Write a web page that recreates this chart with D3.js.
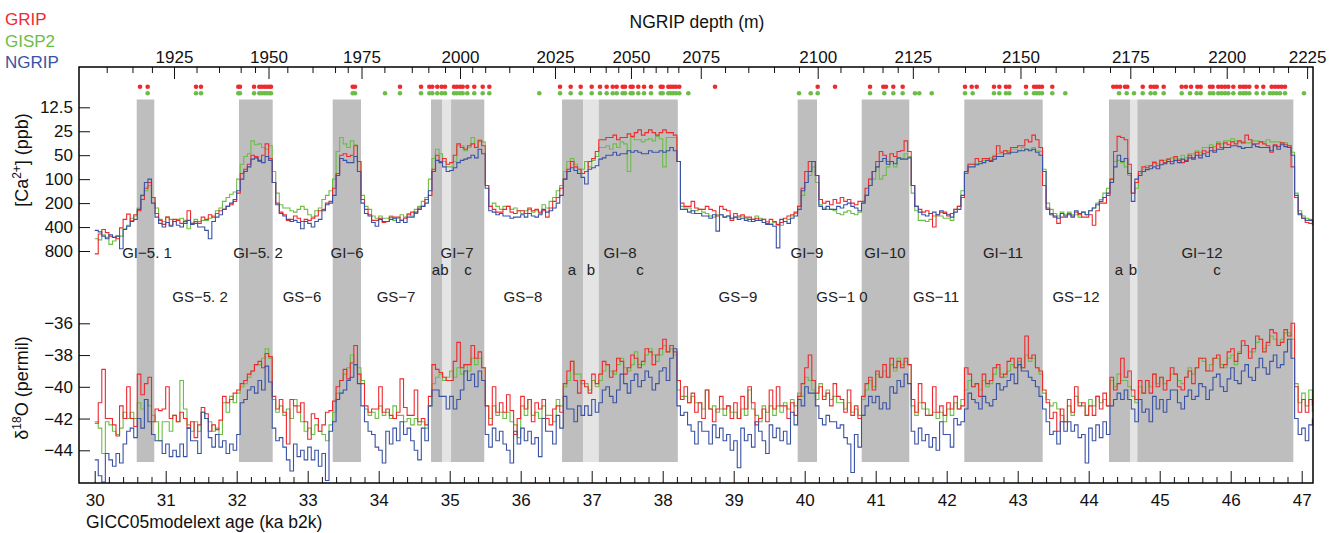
<!DOCTYPE html>
<html>
<head>
<meta charset="utf-8">
<script src="https://cdn.jsdelivr.net/npm/d3@7"></script>
<style>
  body { margin: 0; background: #fff; }
  svg { display: block; font-family: "Liberation Sans", Arial, sans-serif; }
</style>
</head>
<body>
<svg id="chart" width="1340" height="533"></svg>
<script>
// one value per 0.05 ka, first step starts at 30.00 ka b2k (20 values per row = 1 ka)
const startAge = 30.0, stepAge = 0.05;

// [Ca2+] in ppb
const caGRIP = [
  870,490,430,470,520,540,560,410,320,275,335,280,250,180,130,110,170,270,330,370,
  300,380,320,330,360,340,250,360,340,360,300,320,280,300,270,250,240,220,210,190,
  150,85,75,65,50,52,60,50,36,55,110,200,260,280,330,320,290,310,340,320,
  330,310,290,250,240,200,190,130,85,50,48,52,50,38,60,180,240,280,330,330,
  310,350,340,300,300,300,330,310,280,260,270,230,220,180,160,75,50,60,55,65,
  62,50,36,40,42,38,36,40,33,38,120,220,240,260,260,240,220,260,270,250,
  250,270,230,250,240,260,250,300,230,190,170,130,100,75,60,70,75,85,80,60,
  55,45,32,32,30,30,28,32,30,30,27,29,26,24,28,26,24,26,28,26,
  24,26,26,28,60,200,220,220,190,230,240,240,220,240,250,290,220,240,250,330,
  270,290,280,300,300,320,310,330,320,360,320,340,370,350,310,290,280,260,220,130,
  80,60,60,90,180,200,190,210,180,200,170,190,180,200,210,190,190,130,100,80,
  60,45,50,60,48,52,45,44,33,45,120,220,240,260,250,270,400,280,260,260,
  290,270,240,220,170,85,65,65,55,60,55,55,58,52,38,46,44,46,40,40,
  38,38,32,34,28,32,40,120,230,270,300,360,300,300,270,290,260,280,300,300,
  280,380,250,200,200,160,100,45,29,30,32,65,150,110,80,70,72,68,62,68,
  58,62,56,60,52,58,62,58,50,54,46,50,44,46,40,44,36,40,35,37,
  34,36,33,35,28,32,36,36,34,36,38,46,37,39,35,37,38,70,170,270,
  310,350,360,380
];
const caGISP2 = [
  560,580,500,540,660,600,520,520,420,380,310,290,230,160,140,120,170,230,320,340,
  300,320,340,320,310,330,420,360,320,340,330,330,310,290,250,230,190,170,155,145,
  100,65,52,48,33,37,36,40,42,38,80,150,210,230,230,250,260,240,220,240,
  280,300,250,230,180,160,140,100,45,30,36,40,33,37,60,160,220,240,290,310,
  290,310,310,290,330,310,280,300,270,290,240,220,190,170,100,55,42,48,60,70,
  70,60,38,38,44,40,30,40,32,34,120,220,200,220,240,220,220,240,230,250,
  270,250,240,260,250,270,210,230,190,170,140,120,80,60,55,65,85,75,60,70,
  58,52,40,40,38,42,36,40,34,36,80,30,32,32,34,32,31,33,29,31,
  70,30,30,30,60,220,230,230,270,250,240,260,270,290,300,280,280,300,290,310,
  300,300,290,310,340,320,290,310,320,340,370,350,380,380,340,320,290,270,220,160,
  110,90,70,110,210,230,240,240,250,270,280,260,250,270,280,260,200,160,120,100,
  70,100,90,70,60,70,55,55,48,52,150,250,330,330,340,320,290,290,290,310,
  310,330,240,220,140,80,65,65,64,60,58,58,54,50,48,48,44,44,42,42,
  44,40,42,42,40,44,45,75,200,240,270,290,260,280,260,280,280,300,260,280,
  250,230,200,180,150,130,100,60,58,62,70,90,150,130,85,75,68,68,60,64,
  58,58,56,54,54,56,50,54,48,48,44,46,40,40,37,39,34,36,33,33,
  31,33,34,34,35,35,33,33,34,34,32,34,34,34,35,35,38,46,150,250,
  290,310,320,320
];
const caNGRIP = [
  440,460,520,560,500,540,520,750,430,390,340,320,240,160,110,100,200,300,360,400,
  350,390,340,380,400,360,330,370,360,400,400,440,560,340,300,280,240,220,200,180,
  140,100,80,70,56,54,58,62,52,58,110,210,270,290,320,340,330,350,420,340,
  360,400,340,320,250,210,200,160,90,55,58,62,62,52,80,200,270,290,350,390,
  320,340,340,320,310,350,330,350,300,300,260,240,220,200,140,80,58,62,70,80,
  78,72,62,58,56,54,50,54,42,48,130,250,260,280,270,290,290,310,300,300,
  280,300,270,290,300,280,240,260,250,230,200,160,100,80,72,78,85,95,115,75,
  72,68,56,54,50,50,46,50,48,48,44,46,44,46,48,48,44,46,46,44,
  46,44,40,44,60,240,240,260,250,270,270,290,290,310,280,450,280,300,290,310,
  300,320,310,330,320,340,330,330,350,370,370,390,730,320,340,360,310,290,240,140,
  110,80,60,90,220,240,220,240,240,220,230,210,200,220,230,250,200,160,120,80,
  70,60,55,65,60,64,54,56,56,54,120,220,260,280,290,270,260,280,250,270,
  280,300,260,240,160,80,70,70,66,64,62,58,60,56,52,52,48,48,46,46,
  44,44,42,44,42,46,50,80,240,280,290,310,270,290,280,300,250,270,260,280,
  250,230,210,190,170,150,110,70,50,60,55,85,190,100,90,80,76,74,70,74,
  66,64,60,64,58,62,56,60,54,56,50,54,48,52,44,46,42,42,40,40,
  38,38,39,41,40,40,37,39,40,40,40,44,38,42,37,39,40,50,160,280,
  310,330,330,350
];

// d18O in permil
const d18oGRIP = [
  -42.3,-41.0,-38.9,-42.0,-42.0,-42.4,-43.1,-41.2,-42.0,-40.0,-42.0,-42.5,-39.2,-40.5,-39.8,-39.4,-42.2,-41.4,-41.5,-41.4,
  -40.0,-42.0,-41.8,-42.2,-41.6,-42.0,-42.6,-42.2,-43.2,-42.4,-41.3,-41.7,-42.8,-42.4,-42.7,-42.1,-40.6,-41.0,-40.8,-40.4,
  -40.2,-39.8,-39.6,-39.2,-39.0,-38.6,-38.4,-38.8,-37.9,-38.1,-40.6,-41.4,-40.8,-41.6,-43.6,-40.8,-41.2,-41.6,-41.0,-42.2,
  -43.3,-41.7,-42.0,-42.8,-42.4,-41.6,-41.5,-40.9,-40.0,-39.6,-38.9,-39.5,-38.5,-37.4,-39.2,-39.8,-41.2,-41.6,-41.4,-41.4,
  -40.0,-41.6,-41.4,-41.8,-42.0,-41.6,-39.5,-41.3,-41.8,-41.8,-40.2,-42.2,-42.0,-42.4,-40.6,-38.6,-38.9,-39.1,-39.4,-39.6,
  -39.6,-38.4,-37.2,-38.8,-38.6,-38.6,-37.4,-38.2,-37.8,-38.8,-41.2,-42.4,-40.0,-41.6,-41.0,-41.6,-40.5,-41.5,-43.0,-42.0,
  -40.6,-41.4,-40.8,-42.2,-41.0,-41.4,-40.8,-42.0,-42.4,-41.4,-41.2,-41.6,-39.8,-39.0,-38.4,-39.6,-40.4,-39.6,-40.0,-40.4,
  -39.2,-39.8,-39.2,-38.4,-38.6,-39.4,-39.0,-38.2,-38.4,-39.2,-38.8,-38.0,-38.2,-38.8,-38.4,-37.6,-37.8,-38.6,-38.0,-37.6,
  -37.0,-37.8,-37.4,-37.8,-39.6,-40.8,-40.0,-41.0,-40.4,-41.6,-41.0,-42.0,-40.2,-41.4,-42.2,-41.4,-40.6,-41.4,-41.2,-42.0,
  -41.0,-42.0,-40.6,-41.4,-40.0,-41.0,-42.4,-42.0,-41.4,-42.2,-40.2,-41.4,-40.0,-41.2,-41.2,-42.0,-41.0,-41.8,-40.6,-39.8,
  -38.8,-38.0,-39.6,-40.4,-40.0,-40.8,-40.4,-41.2,-39.8,-40.6,-40.8,-41.6,-40.2,-41.8,-41.2,-42.0,-40.6,-39.8,-39.4,-40.2,
  -39.0,-39.4,-38.6,-39.4,-38.2,-38.8,-38.4,-38.8,-38.2,-38.6,-40.8,-41.6,-39.8,-41.0,-41.8,-41.8,-40.0,-41.6,-41.2,-41.8,
  -41.0,-41.4,-40.6,-41.4,-41.2,-38.8,-39.2,-40.0,-39.8,-40.6,-39.2,-39.8,-39.6,-38.8,-38.6,-39.4,-39.2,-38.4,-38.2,-38.8,
  -38.2,-38.8,-36.8,-38.2,-38.0,-38.8,-39.0,-40.2,-41.0,-42.0,-41.6,-42.8,-41.4,-42.2,-40.8,-41.6,-40.0,-41.2,-41.0,-41.8,
  -41.2,-41.8,-40.6,-41.4,-40.4,-41.2,-39.4,-40.2,-39.8,-38.2,-39.4,-39.0,-40.2,-40.8,-39.6,-40.4,-39.6,-40.4,-39.2,-40.0,
  -39.4,-40.2,-39.6,-38.8,-39.2,-40.0,-40.2,-39.4,-39.0,-39.8,-38.8,-38.2,-38.2,-39.0,-39.0,-38.2,-38.0,-38.8,-38.6,-37.8,
  -37.6,-38.4,-37.9,-37.1,-37.4,-38.2,-37.6,-36.8,-37.0,-37.8,-37.2,-36.4,-36.6,-37.4,-37.2,-36.4,-36.8,-36.0,-40.0,-41.6,
  -40.8,-41.6,-40.8,-41.2
];
const d18oGISP2 = [
  -42.2,-42.6,-44.2,-42.2,-42.4,-42.8,-43.0,-42.6,-41.6,-42.0,-41.6,-42.0,-41.0,-41.4,-40.8,-41.2,-41.8,-42.2,-43.4,-42.2,
  -42.2,-42.8,-41.8,-42.2,-39.6,-41.4,-42.4,-42.8,-42.2,-42.8,-41.6,-42.0,-42.2,-42.8,-42.6,-43.0,-41.0,-41.6,-40.6,-41.0,
  -40.4,-40.0,-39.8,-39.4,-39.0,-38.6,-38.6,-38.2,-37.6,-38.2,-40.8,-41.6,-41.2,-41.8,-41.4,-42.0,-40.8,-41.2,-42.2,-42.8,
  -42.6,-43.0,-42.4,-42.8,-43.0,-43.4,-42.4,-41.6,-40.4,-39.6,-39.2,-38.8,-38.0,-38.6,-38.8,-39.6,-41.4,-41.8,-41.6,-42.0,
  -41.2,-41.8,-41.6,-42.0,-41.2,-41.8,-41.8,-42.2,-42.0,-42.4,-42.0,-42.4,-42.2,-42.6,-41.2,-39.8,-39.4,-39.2,-39.6,-39.4,
  -39.0,-39.4,-38.8,-39.2,-38.6,-39.0,-38.2,-38.6,-38.2,-38.8,-41.2,-42.0,-41.2,-41.8,-41.6,-42.0,-41.6,-42.2,-42.4,-43.2,
  -41.2,-41.8,-40.8,-41.8,-41.6,-42.0,-41.2,-41.8,-41.8,-42.2,-40.8,-41.2,-40.0,-39.6,-38.4,-39.2,-39.2,-39.8,-39.8,-40.2,
  -39.6,-40.0,-39.6,-39.0,-38.6,-39.0,-39.2,-38.6,-38.2,-38.8,-39.0,-38.6,-37.8,-38.6,-38.6,-38.0,-37.6,-38.0,-38.4,-38.0,
  -37.4,-37.8,-37.6,-38.0,-40.2,-40.6,-40.6,-41.0,-40.6,-41.0,-41.0,-41.4,-40.2,-41.4,-41.2,-41.6,-41.4,-41.8,-41.2,-41.6,
  -41.6,-42.0,-41.4,-41.8,-40.2,-41.4,-41.8,-42.2,-41.2,-41.6,-41.2,-41.8,-41.2,-41.6,-41.0,-41.4,-40.8,-41.2,-40.4,-40.6,
  -39.4,-39.6,-40.2,-40.8,-39.8,-40.6,-40.2,-40.8,-40.6,-41.0,-41.0,-41.4,-41.0,-41.6,-41.4,-41.8,-40.8,-40.2,-39.6,-40.0,
  -39.2,-39.4,-39.0,-39.4,-38.6,-39.0,-38.2,-38.6,-38.4,-38.6,-41.2,-41.8,-41.0,-41.4,-41.4,-41.8,-41.6,-42.0,-41.6,-42.2,
  -41.4,-41.8,-41.0,-41.4,-40.8,-40.2,-39.6,-40.0,-39.8,-40.2,-39.6,-40.0,-39.8,-39.2,-38.8,-39.2,-39.4,-39.0,-38.6,-38.8,
  -38.4,-38.8,-38.0,-38.4,-38.2,-38.8,-39.2,-40.4,-40.8,-41.2,-41.0,-41.4,-41.8,-42.2,-41.2,-41.8,-40.6,-41.0,-41.2,-41.8,
  -40.8,-41.2,-40.6,-41.0,-40.8,-41.2,-39.6,-40.0,-39.2,-39.6,-39.6,-40.0,-40.6,-41.0,-40.0,-40.4,-39.6,-40.0,-39.2,-39.8,
  -39.4,-39.8,-39.6,-39.2,-39.2,-39.6,-39.8,-39.4,-38.8,-39.2,-38.8,-38.2,-38.4,-39.0,-38.6,-38.2,-38.2,-38.6,-38.8,-38.2,
  -38.0,-38.6,-37.8,-37.4,-37.4,-37.8,-37.8,-37.2,-37.0,-37.6,-37.4,-36.8,-37.0,-37.4,-37.0,-36.6,-36.6,-37.0,-39.8,-41.0,
  -40.4,-41.2,-40.2,-41.6
];
const d18oNGRIP = [
  -44.6,-45.6,-46.0,-44.2,-44.6,-45.0,-44.2,-44.8,-43.6,-42.8,-42.6,-43.2,-42.0,-42.6,-40.8,-42.2,-43.0,-43.4,-43.4,-44.2,
  -43.6,-44.4,-44.0,-44.4,-43.6,-44.4,-42.6,-43.4,-43.4,-44.2,-41.6,-42.0,-43.2,-43.8,-43.0,-43.8,-43.4,-44.2,-43.6,-44.0,
  -43.0,-41.0,-40.8,-40.2,-40.0,-40.4,-39.6,-40.2,-38.7,-39.7,-42.6,-43.4,-43.2,-43.8,-44.6,-45.3,-43.6,-44.4,-44.0,-44.6,
  -43.8,-44.6,-44.0,-45.0,-44.2,-45.9,-42.8,-42.2,-40.8,-40.4,-40.2,-39.6,-39.4,-38.6,-39.8,-41.2,-42.2,-42.8,-43.0,-43.8,
  -44.0,-44.8,-42.8,-43.6,-42.6,-43.4,-42.2,-43.0,-42.6,-43.4,-44.0,-44.6,-42.6,-43.4,-41.2,-40.2,-40.2,-40.6,-40.6,-41.4,
  -40.6,-41.4,-40.8,-40.2,-39.0,-39.6,-39.2,-40.0,-39.0,-39.6,-43.0,-43.8,-42.6,-43.4,-42.8,-43.6,-44.0,-44.8,-42.8,-43.6,
  -42.6,-43.4,-42.8,-43.6,-43.2,-44.4,-42.0,-42.8,-42.8,-43.6,-41.8,-42.6,-40.6,-41.4,-41.4,-42.2,-41.2,-41.8,-41.2,-41.8,
  -40.8,-41.6,-41.0,-40.2,-40.0,-40.6,-41.0,-40.2,-39.2,-39.8,-40.4,-39.6,-39.2,-40.0,-39.6,-39.0,-39.4,-40.2,-39.8,-39.0,
  -38.8,-39.6,-38.2,-37.6,-41.2,-41.8,-41.6,-42.4,-42.8,-43.6,-42.2,-42.8,-42.8,-43.6,-42.4,-43.2,-42.6,-43.4,-43.0,-44.0,
  -43.4,-45.1,-42.6,-43.4,-43.0,-43.8,-42.2,-42.8,-43.4,-44.2,-42.4,-43.2,-42.6,-43.4,-42.8,-43.6,-41.6,-42.4,-40.8,-41.2,
  -40.0,-40.4,-40.4,-41.2,-42.0,-42.4,-41.8,-42.2,-42.2,-42.6,-42.4,-43.2,-43.6,-45.4,-43.0,-43.8,-41.8,-41.2,-40.6,-41.0,
  -40.6,-41.4,-41.0,-41.4,-40.0,-40.4,-39.6,-40.0,-39.2,-39.8,-42.8,-43.6,-42.6,-43.4,-43.0,-43.8,-43.2,-44.0,-42.2,-43.0,
  -43.0,-43.8,-42.0,-42.4,-42.2,-41.4,-40.4,-40.8,-41.0,-41.4,-40.6,-41.0,-41.2,-40.8,-39.8,-40.2,-40.0,-39.6,-39.2,-39.8,
  -38.6,-39.0,-39.0,-39.4,-39.6,-40.0,-40.6,-41.4,-42.2,-43.0,-42.8,-43.6,-42.2,-42.8,-42.2,-42.8,-42.4,-43.2,-43.0,-44.8,
  -42.6,-43.4,-42.4,-43.2,-42.2,-43.0,-41.2,-40.8,-40.4,-40.8,-40.2,-40.8,-41.4,-42.2,-40.8,-41.6,-41.4,-42.2,-40.6,-41.4,
  -40.8,-41.6,-40.8,-40.2,-40.2,-41.0,-41.4,-40.6,-40.2,-40.8,-40.6,-39.8,-40.0,-40.8,-40.2,-39.4,-39.2,-40.0,-40.3,-39.5,
  -38.8,-39.6,-39.8,-39.0,-38.6,-39.4,-39.6,-38.8,-38.2,-38.8,-39.2,-38.4,-38.0,-38.8,-38.6,-37.8,-37.0,-38.2,-42.0,-43.0,
  -42.6,-43.4,-42.4,-42.0
];

// Greenland interstadial periods (ka b2k), "l" = lighter sub-event b
const bandStart = [30.592, 32.032, 33.352, 34.737, 34.892, 35.019, 36.582, 36.882, 37.100, 39.901, 40.803, 42.248, 44.286, 44.582, 44.685];
const bandEnd   = [30.839, 32.507, 33.751, 34.892, 35.019, 35.487, 36.882, 37.100, 38.213, 40.173, 41.473, 43.352, 44.582, 44.685, 46.882];
const bandKind  = ["d","d","d","d","l","d","d","l","d","d","d","d","d","l","d"];

// event labels and their ages
const giNames = ["GI\u22125. 1","GI\u22125. 2","GI\u22126","GI\u22127","GI\u22128","GI\u22129","GI\u221210","GI\u221211","GI\u221212"];
const giAges  = [30.737, 32.300, 33.554, 35.103, 37.399, 40.032, 41.131, 42.793, 45.596];
const gsNames = ["GS\u22125. 2","GS\u22126","GS\u22127","GS\u22128","GS\u22129","GS\u22121 0","GS\u221211","GS\u221212"];
const gsAges  = [31.483, 32.920, 34.244, 36.032, 39.060, 40.525, 41.849, 43.821];
const subNames = ["a","b","c","a","b","c","a","b","c"];
const subAges  = [34.807, 34.927, 35.258, 36.723, 36.990, 37.680, 44.427, 44.624, 45.807];

// match points between the cores (ages)
const tieGRIP = [30.638,30.746,31.427,31.497,32.023,32.046,32.244,32.318,32.352,32.389,32.423,32.459,32.483,
  33.634,33.666,34.300,34.596,34.713,34.755,34.825,34.887,34.934,35.061,35.099,35.145,35.183,35.248,35.346,35.465,35.558,
  36.554,36.704,36.845,37.000,37.117,37.211,37.296,37.352,37.437,37.469,37.549,37.577,37.656,37.737,37.835,37.972,38.000,
  38.079,38.113,38.149,38.187,38.234,38.737,40.183,40.427,40.920,41.107,41.145,41.248,41.380,
  42.258,42.352,42.423,42.666,42.741,42.835,42.882,43.117,43.230,43.268,43.304,43.342,43.487,
  44.346,44.394,44.441,44.511,44.544,44.761,44.873,44.920,44.958,45.056,45.310,45.370,45.441,45.530,45.577,
  45.708,45.746,45.825,45.873,45.920,45.966,46.037,46.131,46.177,46.215,46.262,46.366,46.459,46.577,46.624,46.670,46.718,46.765];
const tieGISP2 = [30.746,31.427,31.497,32.023,32.046,32.244,32.318,32.352,32.389,32.423,32.459,32.483,
  33.634,33.666,34.089,34.300,34.596,34.713,34.755,34.825,34.887,34.934,35.061,35.099,35.145,35.183,35.248,35.346,35.465,35.558,
  36.262,36.554,36.704,36.845,37.000,37.117,37.211,37.296,37.352,37.437,37.469,37.549,37.577,37.656,37.737,37.835,37.972,38.000,
  38.079,38.113,38.149,38.187,38.234,38.361,39.920,40.085,40.183,40.920,41.121,41.248,41.380,41.553,41.614,41.789,
  42.258,42.366,42.666,42.741,42.835,42.882,43.117,43.230,43.268,43.304,43.342,43.487,43.670,
  44.427,44.535,44.638,44.761,44.873,44.934,45.056,45.310,45.427,45.521,45.577,
  45.708,45.755,45.825,45.873,45.920,45.966,46.037,46.131,46.177,46.215,46.262,46.366,46.459,46.553,46.599,46.646,46.694,46.765,47.032];

// NGRIP depth axis (m) and the age at each 5 m mark
const depthLabels = [1925,1950,1975,2000,2025,2050,2075,2100,2125,2150,2175,2200,2225];
const depthMarks = d3.range(1910, 2226, 5);
const depthMarkAges = [30.169,30.532,30.806,31.117,31.434,31.751,32.056,32.258,32.448,32.713,33.068,33.385,33.564,33.758,
  34.080,34.466,34.699,34.934,35.145,35.317,35.500,35.839,36.173,36.483,36.751,36.976,37.197,37.374,37.553,37.727,37.901,
  38.065,38.220,38.536,38.878,39.206,39.568,39.920,40.183,40.504,40.825,41.096,41.310,41.523,41.882,42.258,42.539,42.811,
  43.039,43.243,43.535,43.924,44.300,44.586,44.906,45.216,45.480,45.712,45.944,46.181,46.399,46.601,46.808,47.076];

const ageLabels = d3.range(30, 48);
const caTicks = [12.5, 25, 50, 100, 200, 400, 800];
const d18oTicks = [-36, -38, -40, -42, -44];

const colGRIP = "#ee2a2e", colGISP2 = "#6cbd45", colNGRIP = "#3a52a5";

const svg = d3.select("#chart");
const L = 79, R = 1313, T = 67, B = 483;

const x = d3.scaleLinear().domain([30, 47]).range([94.7, 1301.7]);
const yCa = d3.scaleLog().base(2).domain([12.5, 800]).range([107.3, 251]);
const yO = d3.scaleLinear().domain([-36, -44]).range([323.3, 450.3]);
const xDepth = d3.scaleLinear().domain(depthMarks).range(depthMarkAges.map(a => x(a)));

svg.append("defs").append("clipPath").attr("id", "plotclip")
  .append("rect").attr("x", L).attr("y", T).attr("width", R - L).attr("height", B - T);

// shaded interstadials
svg.append("g").selectAll("rect")
  .data(bandStart)
  .join("rect")
  .attr("x", d => x(d))
  .attr("width", (d, i) => x(bandEnd[i]) - x(d))
  .attr("y", 99.5)
  .attr("height", 462 - 99.5)
  .attr("fill", (d, i) => bandKind[i] === "l" ? "#e4e4e4" : "#bebebe");

// tie points
svg.append("g").selectAll("circle")
  .data(tieGRIP).join("circle")
  .attr("cx", d => x(d)).attr("cy", 86.7).attr("r", 2.3).attr("fill", colGRIP);
svg.append("g").selectAll("circle")
  .data(tieGISP2).join("circle")
  .attr("cx", d => x(d)).attr("cy", 93.3).attr("r", 2.3).attr("fill", colGISP2);

const ageAt = i => startAge + i * stepAge;
const lineCa = d3.line().x((d, i) => x(ageAt(i))).y(d => yCa(d)).curve(d3.curveStepAfter);
const lineO = d3.line().x((d, i) => x(ageAt(i))).y(d => yO(d)).curve(d3.curveStepAfter);

const lines = svg.append("g").attr("clip-path", "url(#plotclip)")
  .attr("fill", "none").attr("stroke-width", 1.1).attr("stroke-linejoin", "miter");

[[caGISP2, colGISP2], [caGRIP, colGRIP], [caNGRIP, colNGRIP]].forEach(([s, c]) => {
  lines.append("path").attr("d", lineCa(s)).attr("stroke", c);
});
[[d18oGISP2, colGISP2], [d18oGRIP, colGRIP], [d18oNGRIP, colNGRIP]].forEach(([s, c]) => {
  lines.append("path").attr("d", lineO(s)).attr("stroke", c);
});

// event labels
const labels = svg.append("g").attr("font-size", 15).attr("fill", "#222").attr("text-anchor", "middle");
labels.selectAll(".gi").data(giNames).join("text").attr("class", "gi")
  .attr("x", (d, i) => x(giAges[i])).attr("y", 258).text(d => d);
labels.selectAll(".sub").data(subNames).join("text").attr("class", "sub")
  .attr("x", (d, i) => x(subAges[i])).attr("y", 275).text(d => d);
labels.selectAll(".gs").data(gsNames).join("text").attr("class", "gs")
  .attr("x", (d, i) => x(gsAges[i])).attr("y", 302).text(d => d);

// axes
function styleAxis(g) {
  g.select(".domain").remove();
  g.selectAll("line").attr("stroke", "#111").attr("stroke-width", 1);
  g.selectAll("text").attr("font-size", 17).attr("fill", "#111")
    .attr("font-family", "'Liberation Sans', Arial, sans-serif");
}

svg.append("g").attr("transform", `translate(0,${B})`)
  .call(d3.axisBottom(x).tickValues(ageLabels).tickSize(-12).tickPadding(11).tickFormat(d3.format("d")))
  .call(styleAxis);
svg.append("g").attr("transform", `translate(0,${B})`)
  .call(d3.axisBottom(x).tickValues(d3.range(30, 47.01, 0.2).filter(v => Math.abs(v - Math.round(v)) > 0.01))
    .tickSize(-6).tickFormat(""))
  .call(styleAxis);

svg.append("g").attr("transform", `translate(0,${T})`)
  .call(d3.axisTop(xDepth).tickValues(depthLabels).tickSize(-12).tickPadding(4).tickFormat(d3.format("d")))
  .call(styleAxis);
svg.append("g").attr("transform", `translate(0,${T})`)
  .call(d3.axisTop(xDepth).tickValues(depthMarks.filter(v => v % 25 !== 0)).tickSize(-6).tickFormat(""))
  .call(styleAxis);

svg.append("g").attr("transform", `translate(${L},0)`)
  .call(d3.axisLeft(yCa).tickValues(caTicks).tickSize(-11).tickPadding(6).tickFormat(d => d))
  .call(styleAxis);
svg.append("g").attr("transform", `translate(${L},0)`)
  .call(d3.axisLeft(yO).tickValues(d18oTicks).tickSize(-11).tickPadding(6).tickFormat(d3.format("d")))
  .call(styleAxis);

// frame
svg.append("rect").attr("x", L).attr("y", T).attr("width", R - L).attr("height", B - T)
  .attr("fill", "none").attr("stroke", "#000").attr("stroke-width", 1.5);

// titles
svg.append("text").attr("x", 697).attr("y", 28).attr("text-anchor", "middle")
  .attr("font-size", 17.5).attr("fill", "#111").text("NGRIP depth (m)");
svg.append("text").attr("x", 86).attr("y", 528)
  .attr("font-size", 17.5).attr("fill", "#111").text("GICC05modelext age (ka b2k)");

const tCa = svg.append("text").attr("transform", "translate(28,160) rotate(-90)")
  .attr("text-anchor", "middle").attr("font-size", 18).attr("fill", "#111");
tCa.append("tspan").text("[Ca");
tCa.append("tspan").attr("font-size", 12).attr("dy", -7).text("2+");
tCa.append("tspan").attr("dy", 7).text("] (ppb)");

const tO = svg.append("text").attr("transform", "translate(28,388) rotate(-90)")
  .attr("text-anchor", "middle").attr("font-size", 18).attr("fill", "#111");
tO.append("tspan").text("\u03b4");
tO.append("tspan").attr("font-size", 12).attr("dy", -7).text("18");
tO.append("tspan").attr("dy", 7).text("O (permil)");

// core legend
const legendNames = ["GRIP", "GISP2", "NGRIP"];
const legendColors = [colGRIP, colGISP2, colNGRIP];
svg.append("g").selectAll("text").data(legendNames).join("text")
  .attr("x", 5).attr("y", (d, i) => 25 + i * 21.5)
  .attr("font-size", 17).attr("fill", (d, i) => legendColors[i]).text(d => d);
</script>
</body>
</html>
